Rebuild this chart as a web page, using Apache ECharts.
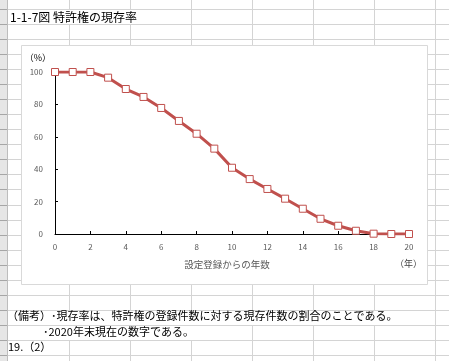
<!DOCTYPE html>
<html><head><meta charset="utf-8">
<style>html,body{margin:0;padding:0;background:#fff;}#c{width:449px;height:361px;}</style>
<script src="https://cdn.jsdelivr.net/npm/echarts@6/dist/echarts.min.js"></script>
</head><body><div id="c"></div>
<script>
// Data
const years = [0,1,2,3,4,5,6,7,8,9,10,11,12,13,14,15,16,17,18,19,20];
const survivalRate = [100,100,100,96.5,89.5,84.6,77.8,69.8,61.9,52.7,40.9,33.9,27.8,21.8,15.6,9.4,5.1,2.0,0.2,0,0];
const yTicks = [0,20,40,60,80,100];
const titleText = '1-1-7図 特許権の現存率';
const xName = '設定登録からの年数';
const xUnit = '（年）';
const yUnit = '（%）';
const notes = ['（備考）･現存率は、特許権の登録件数に対する現存件数の割合のことである。', '･2020年末現在の数字である。', '19.（2）'];

const FONT = '"Noto Sans CJK JP", "Noto Sans", sans-serif';
const GRIDC = '#D4D4D4';
const g = [];
// row header strip
g.push({type:'rect', z:-5, shape:{x:0,y:0,width:7,height:361}, style:{fill:'#E6E6E6'}});
g.push({type:'line', z:-4, shape:{x1:7.5,y1:0,x2:7.5,y2:361}, style:{stroke:'#BDBDBD',lineWidth:1}});
const rowYs = [];
for (let k=0;k<24;k++){ rowYs.push(Math.round(9+15.04*k)+0.5); }
rowYs.forEach(y=>{
  g.push({type:'line', z:-4, shape:{x1:0,y1:y,x2:7,y2:y}, style:{stroke:'#A6A6A6',lineWidth:1}});
  g.push({type:'line', z:-4, shape:{x1:8,y1:y,x2:449,y2:y}, style:{stroke:GRIDC,lineWidth:1}});
});
[69,130,191,252,313,374,435].forEach(x=>{
  g.push({type:'line', z:-4, shape:{x1:x+0.5,y1:0,x2:x+0.5,y2:361}, style:{stroke:GRIDC,lineWidth:1}});
});
// text cell covers (text overflow hides gridlines)
g.push({type:'rect', z:-3, shape:{x:8,y:rowYs[0]+0.5,width:183-8-0.5,height:14}, style:{fill:'#fff'}});
g.push({type:'rect', z:-3, shape:{x:8,y:rowYs[20]+0.5,width:435-8,height:14}, style:{fill:'#fff'}});
g.push({type:'rect', z:-3, shape:{x:8,y:rowYs[21]+0.5,width:252-8,height:14}, style:{fill:'#fff'}});
// chart box
g.push({type:'rect', z:-2, shape:{x:21.5,y:45.5,width:406,height:239}, style:{fill:'#fff',stroke:'#D9D9D9',lineWidth:1}});
// texts
g.push({type:'text', z:5, left:10, top:11, style:{text:titleText, font:'12px '+FONT, fill:'#000'}});
g.push({type:'text', z:5, left:7, top:310, style:{text:notes[0], font:'11px '+FONT, fill:'#000'}});
g.push({type:'text', z:5, left:43, top:326, style:{text:notes[1], font:'11px '+FONT, fill:'#000'}});
g.push({type:'text', z:5, left:8, top:341, style:{text:notes[2], font:'11px '+FONT, fill:'#000'}});
g.push({type:'text', z:5, left:395, top:259, style:{text:xUnit, font:'9px '+FONT, fill:'#404040'}});

const chart = echarts.init(document.getElementById('c'), null, {renderer:'canvas'});
chart.setOption({
  animation:false,
  backgroundColor:'transparent',
  graphic: g,
  grid:{left:55, top:72, width:354, height:162, containLabel:false},
  xAxis:{
    type:'value', min:0, max:20, interval:2,
    name:xName, nameLocation:'middle', nameGap:26,
    nameTextStyle:{fontFamily:FONT, fontSize:9.5, color:'#595959', padding:[0,10,0,0]},
    axisLine:{lineStyle:{color:'#000',width:1}},
    axisTick:{inside:true,length:3,lineStyle:{color:'#000'}},
    axisLabel:{fontFamily:FONT, fontSize:8, color:'#595959', margin:9},
    splitLine:{show:false}
  },
  yAxis:{
    type:'value', min:yTicks[0], max:yTicks[yTicks.length-1], interval:20,
    name:yUnit, nameLocation:'end', nameGap:10,
    nameTextStyle:{fontFamily:FONT, fontSize:9, color:'#000', align:'right', padding:[0,4,0,0]},
    axisLine:{show:true,lineStyle:{color:'#000',width:1}},
    axisTick:{show:true,inside:true,length:3,lineStyle:{color:'#000'}},
    axisLabel:{fontFamily:FONT, fontSize:8, color:'#595959', margin:12},
    splitLine:{show:false}
  },
  series:[{
    type:'line',
    data: years.map((x,i)=>[x, survivalRate[i]]),
    symbol:'rect', symbolSize:7,
    lineStyle:{color:'#C0504D', width:3},
    itemStyle:{color:'#fff', borderColor:'#C0504D', borderWidth:1},
    z:3
  }]
});
</script></body></html>
